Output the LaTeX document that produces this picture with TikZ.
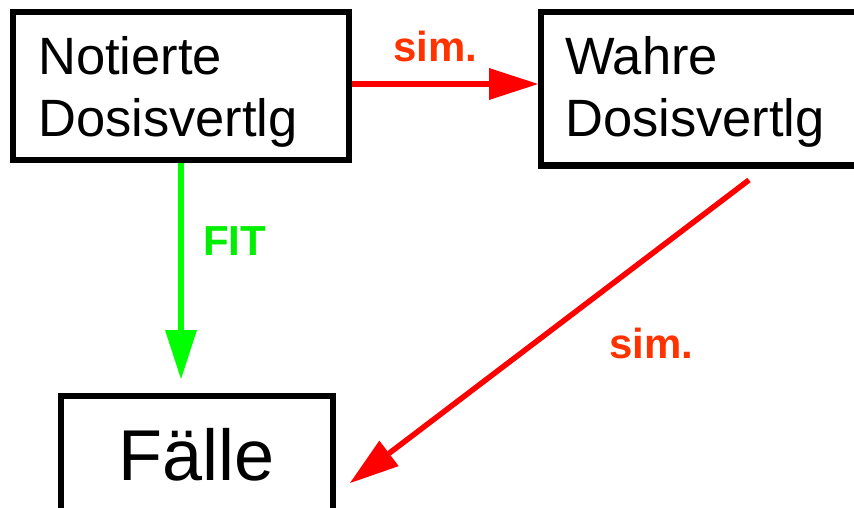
\documentclass[tikz,border=0pt]{standalone}
\usepackage{fontspec}
\setmainfont{Liberation Sans}
\usetikzlibrary{arrows.meta}
\definecolor{simred}{RGB}{255,51,0}
\definecolor{arrred}{RGB}{255,0,0}
\definecolor{fitgreen}{RGB}{0,238,0}
\definecolor{arrgreen}{RGB}{0,255,0}
\tikzset{
  box/.style={draw=black, line width=6pt, rectangle, inner sep=0pt},
  boxtext/.style={anchor=base west, inner sep=0pt, font=\fontsize{52.5}{62}\selectfont},
  edgelabel/.style={anchor=base west, inner sep=0pt, font=\fontsize{42}{50}\selectfont\bfseries},
  conn/.style={line width=5.5pt, -{Triangle[length=49pt,width=32pt,line width=0pt]}},
}
\begin{document}
\begin{tikzpicture}[x=1pt,y=-1pt]
\useasboundingbox (0,0) rectangle (854,508);
% boxes
\node[box, minimum width=336pt, minimum height=148pt] (b1) at (181,86) {};
\node[box, minimum width=340pt, minimum height=153pt] (b2) at (711,89) {};
\node[box, minimum width=271.5pt, minimum height=160pt] (b3) at (196.75,476) {};
% texts
\node[boxtext] (t1a) at (38,75) {Notierte};
\node[boxtext] (t1b) at (38,137) {Dosisvertlg};
\node[boxtext] (t2a) at (565,75) {Wahre};
\node[boxtext] (t2b) at (565,137) {Dosisvertlg};
\node[anchor=base west, inner sep=0pt, font=\fontsize{72}{80}\selectfont] (t3) at (118,480) {Fälle};
% connectors
\coordinate (h1) at ([yshift=2pt]b1.east);
\draw[conn, arrred] (h1) -- (h1 -| b2.west);
\draw[conn, arrgreen, shorten >=14pt] (b1.south) -- (b1.south |- b3.north);
\coordinate (d1) at (749,180);
\coordinate (d2) at (350,483);
\draw[conn, arrred] (d1) -- (d2);
% labels
\node[edgelabel, text=simred] (l1) at (393,62) {sim.};
\node[edgelabel, text=fitgreen] (l2) at (203,255) {FIT};
\node[edgelabel, text=simred] (l3) at (609,358) {sim.};
\end{tikzpicture}
\end{document}
